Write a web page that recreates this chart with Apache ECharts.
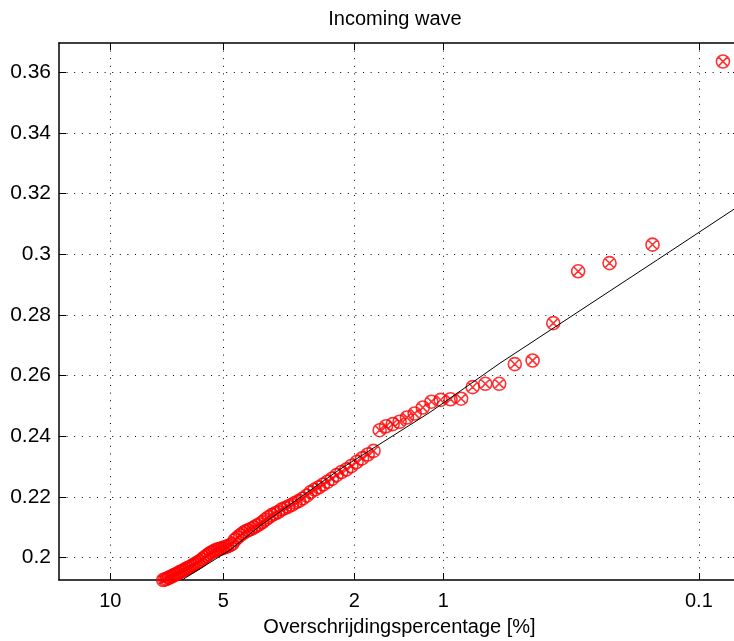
<!DOCTYPE html>
<html>
<head>
<meta charset="utf-8">
<script src="https://cdn.jsdelivr.net/npm/echarts@6/dist/echarts.min.js"></script>
<style>html,body{margin:0;padding:0;background:#fff}#c{width:734px;height:641px}</style>
</head>
<body>
<div id="c"></div>
<script>
// Exceedance percentage of each point [%]
const pct = [0.0786,0.1572,0.2358,0.3145,0.3931,0.4717,0.5503,0.6289,0.7075,0.7862,
  0.8648,0.9434,1.0220,1.1006,1.1792,1.2579,1.3365,1.4151,1.4937,1.5723,
  1.6509,1.7296,1.8082,1.8868,1.9654,2.0440,2.1226,2.2013,2.2799,2.3585,
  2.4371,2.5157,2.5943,2.6730,2.7516,2.8302,2.9088,2.9874,3.0660,3.1447,
  3.2233,3.3019,3.3805,3.4591,3.5377,3.6164,3.6950,3.7736,3.8522,3.9308,
  4.0094,4.0881,4.1667,4.2453,4.3239,4.4025,4.4811,4.5597,4.6384,4.7170,
  4.7956,4.8742,4.9528,5.0314,5.1101,5.1887,5.2673,5.3459,5.4245,5.5031,
  5.5818,5.6604,5.7390,5.8176,5.8962,5.9748,6.0535,6.1321,6.2107,6.2893,
  6.3679,6.4465,6.5252,6.6038,6.6824,6.7610,6.8396,6.9182,6.9969,7.0755,
  7.1541,7.2327,7.3113];
// Observed values
const vals = [0.3636,0.3032,0.2971,0.2944,0.2773,0.2650,0.2638,0.2573,0.2573,0.2562,
  0.2524,0.2522,0.2520,0.2514,0.2495,0.2475,0.2462,0.2448,0.2440,0.2433,
  0.2420,0.2352,0.2340,0.2327,0.2315,0.2302,0.2290,0.2282,0.2272,0.2260,
  0.2250,0.2241,0.2232,0.2224,0.2216,0.2204,0.2195,0.2187,0.2181,0.2174,
  0.2168,0.2163,0.2158,0.2150,0.2145,0.2140,0.2133,0.2125,0.2117,0.2110,
  0.2105,0.2099,0.2094,0.2090,0.2086,0.2080,0.2073,0.2066,0.2058,0.2045,
  0.2040,0.2037,0.2034,0.2031,0.2029,0.2027,0.2024,0.2020,0.2016,0.2011,
  0.2005,0.2000,0.1994,0.1988,0.1984,0.1980,0.1976,0.1972,0.1968,0.1965,
  0.1962,0.1958,0.1955,0.1952,0.1948,0.1945,0.1942,0.1939,0.1936,0.1933,
  0.1930,0.1928,0.1926];
// Fitted line
const linePct = [6.51, 4.785, 3.944, 2.240, 1.114, 0.625, 0.150, 0.0661];
const lineVals = [0.1926, 0.2025, 0.2102, 0.2289, 0.2479, 0.2641, 0.2982, 0.3162];
// Axes
const xTickPct = [10, 5, 2, 1, 0.1];
const yTicks = [0.2, 0.22, 0.24, 0.26, 0.28, 0.3, 0.32, 0.34, 0.36];
const xLimPct = [13.29, 0.0661];
const yLim = [0.1926, 0.3697];

// Rayleigh probability scale
function u(p) { return Math.sqrt(-Math.log(p / 100)); }
const xTickU = xTickPct.map(u);
function xFmt(v) {
  for (let k = 0; k < xTickU.length; k++) if (Math.abs(xTickU[k] - v) < 1e-6) return String(xTickPct[k]);
  return '';
}
const FONT = 'Liberation Sans';
const gridLine = { show: true, lineStyle: { color: '#000', width: 1, type: [1, 6.6] } };
const axLine = { show: true, onZero: false, lineStyle: { color: '#000', width: 1.5 } };

const chart = echarts.init(document.getElementById('c'), null, { renderer: 'canvas' });
chart.setOption({
  animation: false,
  backgroundColor: '#fff',
  grid: { left: 59, top: 43, width: 681, height: 537, containLabel: false, outerBoundsMode: 'none' },
  graphic: [{
    type: 'text', x: 395, y: 19,
    style: { text: 'Incoming wave', fill: '#000', font: '20px "Liberation Sans"', align: 'center', verticalAlign: 'middle' }
  }],
  xAxis: [{
    type: 'value', position: 'bottom', min: u(xLimPct[0]), max: u(xLimPct[1]),
    axisLine: axLine,
    axisTick: { show: true, inside: true, length: 7, customValues: xTickU, lineStyle: { color: '#000', width: 1 } },
    axisLabel: { show: true, customValues: xTickU, formatter: xFmt, color: '#000', fontSize: 20, fontFamily: FONT, margin: 11 },
    splitLine: gridLine,
    name: 'Overschrijdingspercentage [%]', nameLocation: 'middle', nameGap: 37,
    nameTextStyle: { color: '#000', fontSize: 20, fontFamily: FONT }
  }, {
    type: 'value', position: 'top', min: u(xLimPct[0]), max: u(xLimPct[1]),
    axisLine: axLine,
    axisTick: { show: true, inside: true, length: 7, customValues: xTickU, lineStyle: { color: '#000', width: 1 } },
    axisLabel: { show: false }, splitLine: { show: false }
  }],
  yAxis: [{
    type: 'value', position: 'left', min: yLim[0], max: yLim[1],
    axisLine: axLine,
    axisTick: { show: true, inside: true, length: 7, customValues: yTicks, lineStyle: { color: '#000', width: 1 } },
    axisLabel: { show: true, customValues: yTicks, formatter: v => String(+v.toFixed(2)), color: '#000', fontSize: 21, fontFamily: FONT, margin: 8 },
    splitLine: gridLine
  }, {
    type: 'value', position: 'right', min: yLim[0], max: yLim[1],
    axisLine: axLine,
    axisTick: { show: true, inside: true, length: 7, customValues: yTicks },
    axisLabel: { show: false }, splitLine: { show: false }
  }],
  series: [{
    type: 'scatter',
    xAxisIndex: 0, yAxisIndex: 0,
    data: pct.map((p, i) => [u(p), vals[i]]),
    symbol: 'path://M20,10A10,10,0,1,1,0,10A10,10,0,1,1,20,10ZM2.93,2.93L17.07,17.07M17.07,2.93L2.93,17.07',
    symbolSize: 13,
    symbolKeepAspect: true,
    itemStyle: { color: 'rgba(0,0,0,0)', borderColor: '#ff0000', borderWidth: 1.6 },
    emphasis: { disabled: true },
    clip: true,
    z: 2
  }, {
    type: 'line',
    xAxisIndex: 0, yAxisIndex: 0,
    data: linePct.map((p, i) => [u(p), lineVals[i]]),
    showSymbol: false, symbol: 'none',
    lineStyle: { color: '#000', width: 1 },
    emphasis: { disabled: true },
    clip: true,
    z: 3
  }]
});
</script>
</body>
</html>
